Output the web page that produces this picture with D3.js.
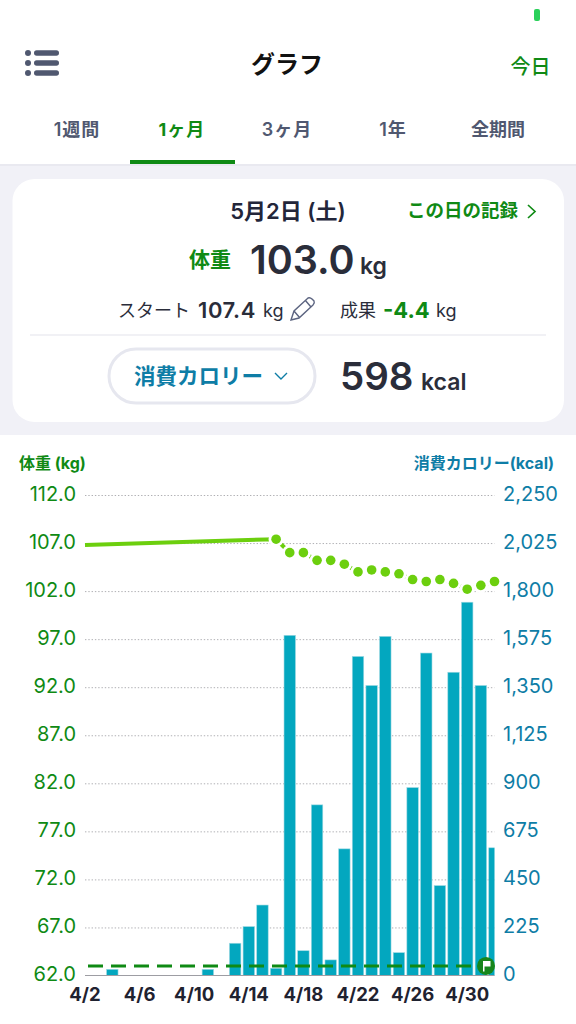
<!DOCTYPE html>
<html><head><meta charset="utf-8">
<script src="https://cdn.jsdelivr.net/npm/d3@7/dist/d3.min.js"></script>
<style>
html,body{margin:0;padding:0;background:#fff;width:576px;height:1024px;overflow:hidden}
svg{display:block}
text{font-family:Inter,"Noto Sans CJK JP",sans-serif}
</style></head><body><svg id="c" width="576" height="1024"></svg>
<script>
const days=["4/2","4/3","4/4","4/5","4/6","4/7","4/8","4/9","4/10","4/11","4/12","4/13","4/14","4/15","4/16","4/17","4/18","4/19","4/20","4/21","4/22","4/23","4/24","4/25","4/26","4/27","4/28","4/29","4/30","5/1","5/2"];
const calories=[0,0,29,0,0,0,0,0,0,29,0,151,229,330,34,1593,116,799,73,593,1494,1358,1588,107,880,1510,421,1420,1748,1358,598];
const weight=[106.8,null,null,null,null,null,null,null,null,null,null,null,null,null,107.4,106.0,106.0,105.2,105.2,104.8,104.0,104.2,104.0,103.8,103.2,103.0,103.2,102.8,102.2,102.6,103.0];
const goalWeight=63.0;
const xTickLabels=["4/2","4/6","4/10","4/14","4/18","4/22","4/26","4/30"];
const weightTicks=[62,67,72,77,82,87,92,97,102,107,112];
const calorieTicks=[0,225,450,675,900,1125,1350,1575,1800,2025,2250];
const tabs=["1週間","1ヶ月","3ヶ月","1年","全期間"];

const GREEN="#0f8a14",BLUE="#0e7da6",DARK="#2a2d3a",LIME="#6ccf0e",BAR="#03a7bf",GREY="#505870";
const svg=d3.select("#c");
function T(x,y,s,size,fill,weight,anchor,ls){
  return svg.append("text").attr("x",x).attr("y",y).text(s).attr("font-size",size).attr("fill",fill)
    .attr("font-weight",weight||400).attr("text-anchor",anchor||"start").attr("letter-spacing",ls||0);
}
// ---------- header ----------
svg.append("rect").attr("x",0).attr("y",164).attr("width",576).attr("height",271).attr("fill","#f1f1f7");
svg.append("rect").attr("x",0).attr("y",164).attr("width",576).attr("height",2).attr("fill","#e9e9f0");
svg.append("rect").attr("x",534).attr("y",9).attr("width",6).attr("height",12).attr("rx",2).attr("fill","#2ad05a");
[53,63,73].forEach(y=>{
  svg.append("circle").attr("cx",28).attr("cy",y).attr("r",3).attr("fill",GREY);
  svg.append("rect").attr("x",34).attr("y",y-2.7).attr("width",25).attr("height",5.4).attr("rx",2.7).attr("fill",GREY);
});
T(287,73,"グラフ",24,"#111",700,"middle");
T(530.5,74,"今日",20,GREEN,500,"middle");
const tabX=[77,182,287,393,498];
tabs.forEach((t,i)=>T(tabX[i],135.5,t,18,i==1?GREEN:GREY,i==1?700:600,"middle",i==4?0:1));
svg.append("rect").attr("x",130).attr("y",160).attr("width",105).attr("height",4).attr("fill",GREEN);
// ---------- card ----------
svg.append("rect").attr("x",12.5).attr("y",179).attr("width",551.5).attr("height",243).attr("rx",22).attr("fill","#fff");
T(288,219,"5月2日 (土)",22,"#23263a",600,"middle");
T(407,217,"この日の記録",18.5,GREEN,600);
svg.append("path").attr("d","M528 205l7 6.5l-7 6.5").attr("fill","none").attr("stroke",GREEN).attr("stroke-width",1.7);
T(210,267,"体重",21,GREEN,600,"middle");
T(250,274,"103.0",39.5,DARK,600);
T(360,274,"kg",23,DARK,600);
T(118,317,"スタート",18,"#2a2d3a",400);
T(198,317.5,"107.4",22,DARK,600,"start",.6);
T(263,317,"kg",18,DARK,400);
svg.append("path").attr("d","M291 320l3-9l14-13q2-1 4 1l2 2q1 2-1 4l-14 13zM294 311l6 7M305 300l6 7").attr("fill","none").attr("stroke","#5c6480").attr("stroke-width",1.4);
T(340,317,"成果",18,"#2a2d3a",400);
T(383,317.5,"-4.4",22,GREEN,700);
T(436,317,"kg",18,DARK,400);
svg.append("line").attr("x1",30).attr("x2",546).attr("y1",335).attr("y2",335).attr("stroke","#e3e3ec").attr("stroke-width",1.2);
svg.append("rect").attr("x",109).attr("y",349).attr("width",206).attr("height",54).attr("rx",27).attr("fill","#fff").attr("stroke","#e6e7ef").attr("stroke-width",3);
T(134,384,"消費カロリー",21.5,BLUE,600);
svg.append("path").attr("d","M275 373l6 6l6-6").attr("fill","none").attr("stroke",BLUE).attr("stroke-width",1.4);
T(340,390,"598",38.5,DARK,600);
T(421,390,"kcal",23,DARK,600);
// ---------- chart ----------
const x=d3.scalePoint().domain(days).range([85,494.5]);
const yW=d3.scaleLinear().domain([62,112]).range([975.5,495]);
const yC=d3.scaleLinear().domain([0,2250]).range([975.5,495]);
const barW=x.step()*0.84;

T(19,469,"体重 (kg)",16,GREEN,700);
T(554,469,"消費カロリー(kcal)",16,BLUE,700,"end");

const gl=svg.append("g").attr("transform","translate(85,0)")
  .call(d3.axisLeft(yW).tickValues(weightTicks).tickFormat(d3.format(".1f")).tickSize(0).tickPadding(9));
gl.select(".domain").remove();
gl.selectAll("text").attr("font-size",20).attr("fill",GREEN).attr("dy","0.27em");
const gr=svg.append("g").attr("transform","translate(494.5,0)")
  .call(d3.axisRight(yC).tickValues(calorieTicks).tickFormat(d3.format(",")).tickSize(0).tickPadding(8.5));
gr.select(".domain").remove();
gr.selectAll("text").attr("font-size",20).attr("fill",BLUE).attr("dy","0.27em");

const grid=svg.append("g").attr("transform","translate(85,0)")
  .call(d3.axisRight(yW).tickValues(weightTicks.slice(1)).tickFormat("").tickSize(409.5));
grid.select(".domain").remove();
grid.selectAll("line").attr("stroke","#b0b0b4").attr("stroke-width",1).attr("stroke-dasharray","1.4 1.9");

svg.append("clipPath").attr("id","plot").append("rect").attr("x",85).attr("y",480).attr("width",409.5).attr("height",496);
svg.append("g").attr("clip-path","url(#plot)").selectAll("rect").data(days.map((d,i)=>({d,v:calories[i]})).filter(o=>o.v>0)).join("rect")
  .attr("x",o=>x(o.d)-barW/2).attr("width",barW).attr("y",o=>yC(o.v)).attr("height",o=>yC(0)-yC(o.v))
  .attr("fill",BAR).attr("stroke","#9fd9e3").attr("stroke-width",.6);

svg.append("line").attr("x1",85).attr("x2",494.5).attr("y1",yW(62)).attr("y2",yW(62)).attr("stroke","#9d9da3").attr("stroke-width",1.2);

const gx=svg.append("g").attr("transform","translate(-0.5,975.5)")
  .call(d3.axisBottom(x).tickValues(xTickLabels).tickSize(0).tickPadding(12));
gx.select(".domain").remove();
gx.selectAll("text").attr("font-size",18.5).attr("font-weight",700).attr("fill","#1f2230");

svg.append("line").attr("x1",88).attr("x2",478).attr("y1",yW(goalWeight)).attr("y2",yW(goalWeight))
  .attr("stroke",GREEN).attr("stroke-width",3).attr("stroke-dasharray","15 8");
const fx=486, fy=yW(goalWeight);
svg.append("circle").attr("cx",fx).attr("cy",fy).attr("r",9).attr("fill","#17861b");
svg.append("path").attr("d",`M${fx-3} ${fy-5}h7.5v5.5h-6v5h-1.5z`).attr("fill","#fff");

const pts=days.map((d,i)=>({d,v:weight[i]})).filter(o=>o.v!=null);
svg.append("path").datum(pts).attr("fill","none").attr("stroke",LIME).attr("stroke-width",4)
  .attr("d",d3.line().x(o=>x(o.d)).y(o=>yW(o.v)));
svg.append("g").selectAll("circle").data(pts.slice(1)).join("circle")
  .attr("cx",o=>x(o.d)).attr("cy",o=>yW(o.v)).attr("r",4.8)
  .attr("fill",LIME).attr("stroke","#fff").attr("stroke-width",5.6).attr("paint-order","stroke");
</script></body></html>
